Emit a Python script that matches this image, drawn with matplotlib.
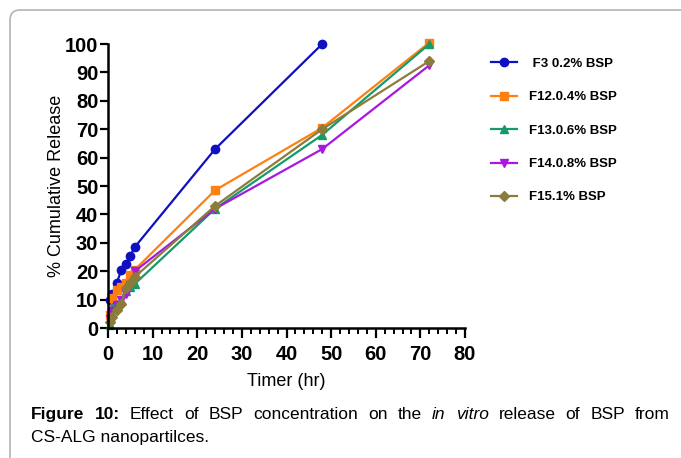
import matplotlib
matplotlib.use("Agg")
import matplotlib.pyplot as plt
from matplotlib.patches import FancyBboxPatch

plt.rcParams["font.family"] = ["Liberation Sans", "DejaVu Sans"]

# release data
time_hr = [0.5, 1, 2, 3, 4, 5, 6, 24, 48, 72]
f3 = [10, 12, 16, 20.5, 22.5, 25.5, 28.5, 63, 100]
f12 = [4.5, 10.5, 13.5, 14.5, 16, 18.5, 20.5, 48.5, 70.5, 100.5]
f13 = [1, 7.5, 8.5, 10, 13, 14.5, 15.5, 42, 68, 100]
f14 = [3, 6, 8, 10, 12, 15, 20, 42, 63, 92.5]
f15 = [2, 4, 6.5, 8.5, 14, 16, 18, 43, 70, 94]

labels = [" F3 0.2% BSP", "F12.0.4% BSP", "F13.0.6% BSP", "F14.0.8% BSP", "F15.1% BSP"]
series = [f3, f12, f13, f14, f15]
colors = ["#1010c0", "#ff8010", "#159a6a", "#a818e0", "#8c7c3c"]
markers = ["o", "s", "^", "v", "D"]

fig = plt.figure(figsize=(6.81, 4.58), dpi=100)
ax = fig.add_axes([108 / 681, 130 / 458, 357 / 681, 284 / 458])

handles = []
for vals, lab, c, m in zip(series, labels, colors, markers):
    ms = 5 if m == "D" else 6
    h, = ax.plot(time_hr[:len(vals)], vals, color=c, marker=m, markersize=ms,
                 linewidth=1.6, label=lab, clip_on=False)
    handles.append(h)

ax.set_xlim(0, 80)
ax.set_ylim(0, 100)
ax.set_xticks(range(0, 81, 10))
ax.set_xticks(range(0, 81, 2), minor=True)
ax.set_yticks(range(0, 101, 10))
ax.spines["top"].set_visible(False)
ax.spines["right"].set_visible(False)
for s in ("left", "bottom"):
    ax.spines[s].set_linewidth(1.8)
ax.tick_params(axis="both", which="major", width=1.6, length=6, labelsize=14.5, pad=1)
ax.tick_params(axis="x", which="major", length=7, pad=5)
ax.tick_params(axis="x", which="minor", width=1.4, length=4)
for t in ax.get_xticklabels() + ax.get_yticklabels():
    t.set_fontweight("bold")

ax.set_xlabel("Timer (hr)", fontsize=13, labelpad=7)
ax.set_ylabel("% Cumulative Release", fontsize=13, labelpad=0)

leg = fig.legend(handles=handles, loc="upper left", bbox_to_anchor=(479 / 681, 1 - 46 / 458),
                 frameon=False, handlelength=2.0, handletextpad=0.9, labelspacing=1.6,
                 prop={"weight": "bold", "size": 9.5})

# outer rounded frame (runs off the right and bottom edges)
frame = FancyBboxPatch((0.1, -0.3), 7.2, 4.78, boxstyle="round,pad=0,rounding_size=0.1",
                       transform=fig.dpi_scale_trans, facecolor="none",
                       edgecolor="#b4b4b4", linewidth=1.2)
fig.patches.append(frame)

# caption, first line justified between the left and right margins
fig.canvas.draw()
renderer = fig.canvas.get_renderer()
line1 = [("Figure", "bold", "normal"), ("10:", "bold", "normal"), ("Effect", "normal", "normal"),
         ("of", "normal", "normal"), ("BSP", "normal", "normal"), ("concentration", "normal", "normal"),
         ("on", "normal", "normal"), ("the", "normal", "normal"), ("in", "normal", "italic"),
         ("vitro", "normal", "italic"), ("release", "normal", "normal"), ("of", "normal", "normal"),
         ("BSP", "normal", "normal"), ("from", "normal", "normal")]
x_left, x_right = 31, 670
y1 = 458 - 419
cap_size = 12.5
texts = []
for word, wt, st in line1:
    t = fig.text(0, y1 / 458, word, fontsize=cap_size, fontweight=wt, fontstyle=st)
    texts.append(t)
widths = [t.get_window_extent(renderer).width for t in texts]
gap = (x_right - x_left - sum(widths)) / (len(texts) - 1)
x = x_left
for t, w in zip(texts, widths):
    t.set_x(x / 681)
    x += w + gap
fig.text(x_left / 681, (458 - 442) / 458, "CS-ALG nanopartilces.", fontsize=cap_size)

fig.savefig("out.png", dpi=100)
